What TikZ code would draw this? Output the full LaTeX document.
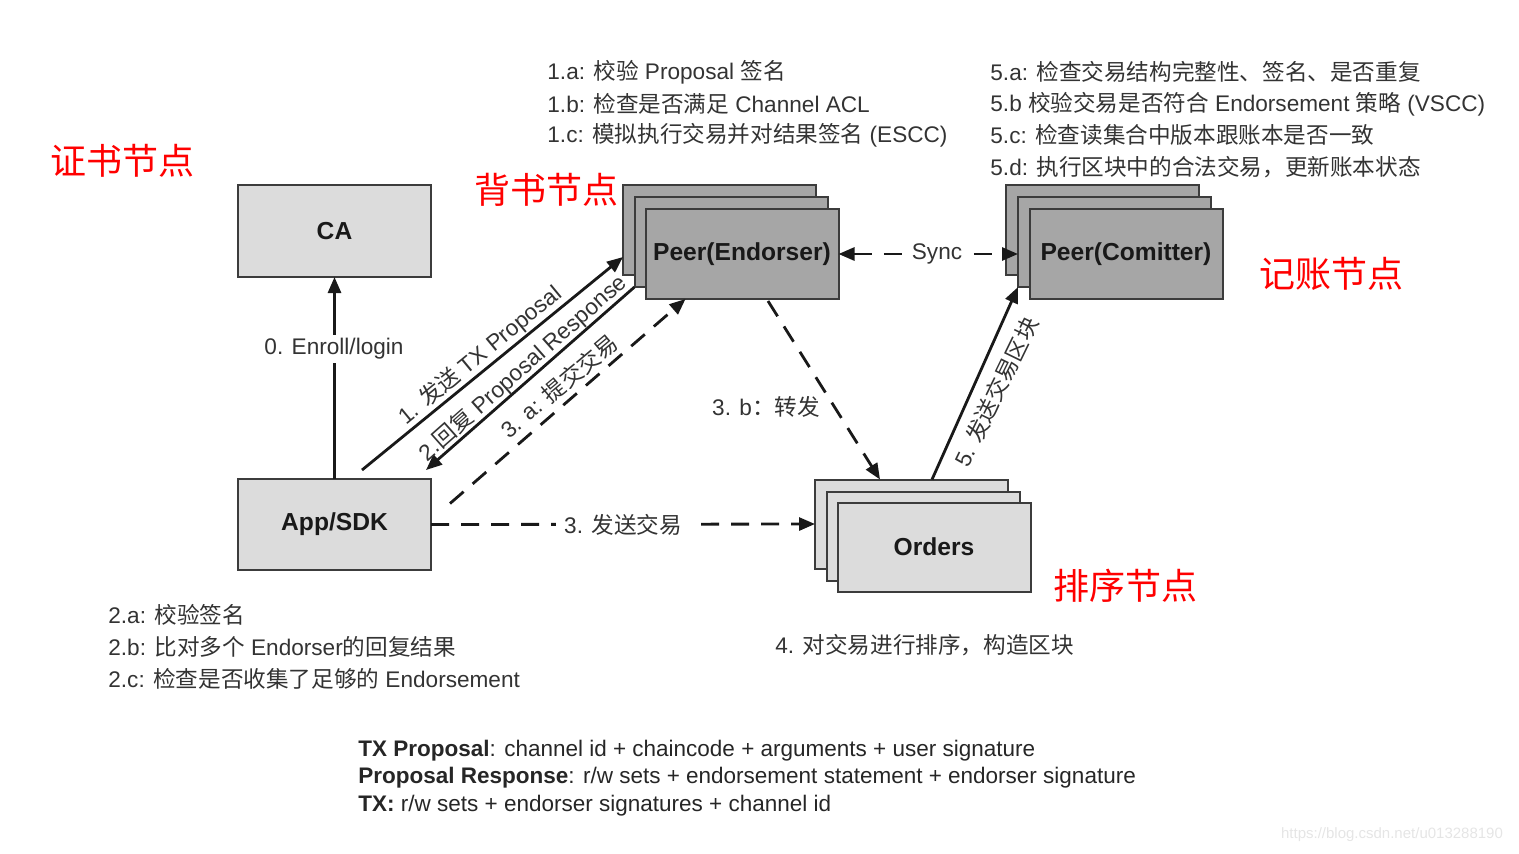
\documentclass[tikz,border=0pt]{standalone}
\usepackage{fontspec}
\setmainfont{Liberation Sans}
\newfontfamily\cjk{Noto Sans CJK SC}
\newcommand\zh[1]{{\cjk #1}}
\usetikzlibrary{arrows.meta,calc}
\definecolor{txt}{HTML}{333333}
\definecolor{bord}{HTML}{3C3C3C}
\definecolor{light}{HTML}{DCDCDC}
\definecolor{dark}{HTML}{A6A6A6}
\begin{document}
\begin{tikzpicture}[x=0.5pt,y=-0.5pt,
  box/.style={draw=bord,line width=1pt,inner sep=0pt,outer sep=0pt,minimum width=96.5pt,font=\fontsize{12.3}{14}\selectfont\bfseries,text=black!90},
  lbox/.style={box,fill=light},
  dbox/.style={box,fill=dark},
  note/.style={anchor=west,inner sep=0pt,text=txt,font=\fontsize{11.3}{13}\selectfont},
  leg/.style={anchor=base west,inner sep=0pt,text=black!85,font=\fontsize{11.25}{13}\selectfont},
  red/.style={inner sep=0pt,text=red,font=\cjk\fontsize{18}{20}\selectfont},
  lab/.style={inner sep=1.5pt,text=txt,font=\fontsize{11.3}{13}\selectfont},
  tip/.style={-{Triangle[length=8pt,width=6.5pt]}},
  solidc/.style={tip,line width=1.4pt,draw=black!90},
  dashc/.style={tip,line width=1.4pt,draw=black!90,dash pattern=on 9pt off 6pt}]
\useasboundingbox (0,0) rectangle (1519,853);

% boxes
\node[lbox,minimum height=46pt] (ca) at (334.5,231) {CA};
\node[lbox,minimum height=45.5pt] (app) at (334.5,524.5) {App/SDK};

\node[dbox,minimum height=45pt] (endB) at (719.5,230) {};
\node[dbox,minimum height=45pt] (endM) at (731,242) {};
\node[dbox,minimum height=45pt] (endF) at (742,254) {Peer(Endorser)};

\node[dbox,minimum height=45pt] (comB) at (1102.5,230) {};
\node[dbox,minimum height=45pt] (comM) at (1114.5,242) {};
\node[dbox,minimum height=45pt] (comF) at (1126,254) {Peer(Comitter)};

\node[lbox,minimum height=44.5pt] (ordB) at (911.5,524) {};
\node[lbox,minimum height=44.5pt] (ordM) at (923,536) {};
\node[lbox,minimum height=44.5pt] (ordF) at (934,547) {Orders};

% connectors
\draw[solidc] (app.north) -- (ca.south);
\node[lab,fill=white] (l0) at (334,349) {0. Enroll/login};

\draw[solidc] ($(app.north west)+(124,-9)$) -- ($(endB.west)+(0,27)$);
\draw[solidc] (endM.south west) -- ($(app.north west)+(188,-9)$);
\draw[dashc] ($(app.east)+(19,-21)$) -- ($(endF.south west)+(40,0)$);
\draw[dashc] ($(endF.south)+(26,2)$) -- ($(ordB.north west)+(65,0)$);
\draw[dashc] (app.east) -- (ordB.west);
\draw[solidc] ($(ordB.north west)+(117,0)$) -- (comM.south west);
\draw[dashc,{Triangle[length=8pt,width=6.5pt]}-{Triangle[length=8pt,width=6.5pt]}] (endF.east) -- (comM.west |- endF.east);

\node[lab,rotate=39.5] (l1) at (480,355) {1. \zh{发送} TX Proposal};
\node[lab,rotate=41.5] (l2) at (523,368) {2.\zh{回复} Proposal Response};
\node[lab,rotate=40] (l3a) at (559,386) {3. a: \zh{提交交易}};
\node[lab,rotate=64] (l5) at (996,392) {5. \zh{发送交易区块}};
\node[lab] (l3b) at (766,407) {3. b\zh{：转发}};
\node[lab,fill=white,inner xsep=4pt] (l3) at (623,525) {3. \zh{发送交易}};
\node[lab,fill=white,inner xsep=5pt] (lsync) at (937,254) {Sync};

% red labels
\node[red] (r1) at (122,161) {证书节点};
\node[red] (r2) at (546,190) {背书节点};
\node[red] (r3) at (1331,274) {记账节点};
\node[red] (r4) at (1125,586) {排序节点};

% notes top
\node[note] (n1a) at (547,72) {1.a: \zh{校验} Proposal \zh{签名}};
\node[note] (n1b) at (547,104) {1.b: \zh{检查是否满足} Channel ACL};
\node[note] (n1c) at (547,135) {1.c: \zh{模拟执行交易并对结果签名} (ESCC)};

\node[note] (n5a) at (990,72) {5.a: \zh{检查交易结构完整性、签名、是否重复}};
\node[note] (n5b) at (990,104) {5.b \zh{校验交易是否符合} Endorsement \zh{策略} (VSCC)};
\node[note] (n5c) at (990,135) {5.c: \zh{检查读集合中版本跟账本是否一致}};
\node[note] (n5d) at (990,167) {5.d: \zh{执行区块中的合法交易，更新账本状态}};

\node[note] (n2a) at (108,615) {2.a: \zh{校验签名}};
\node[note] (n2b) at (108,647) {2.b: \zh{比对多个} Endorser\zh{的回复结果}};
\node[note] (n2c) at (108,679) {2.c: \zh{检查是否收集了足够的} Endorsement};

\node[note] (n4) at (775,645) {4. \zh{对交易进行排序，构造区块}};

% legend
\node[leg] (g1) at (358,756) {\textbf{TX Proposal}: channel id + chaincode + arguments + user signature};
\node[leg] (g2) at (358,783) {\textbf{Proposal Response}: r/w sets + endorsement statement + endorser signature};
\node[leg] (g3) at (358,811) {\textbf{TX:} r/w sets + endorser signatures + channel id};

\node[inner sep=0pt,text=black!10,font=\fontsize{7.5}{9}\selectfont] (wm) at (1392,835) {https://blog.csdn.net/u013288190};
\end{tikzpicture}
\end{document}
